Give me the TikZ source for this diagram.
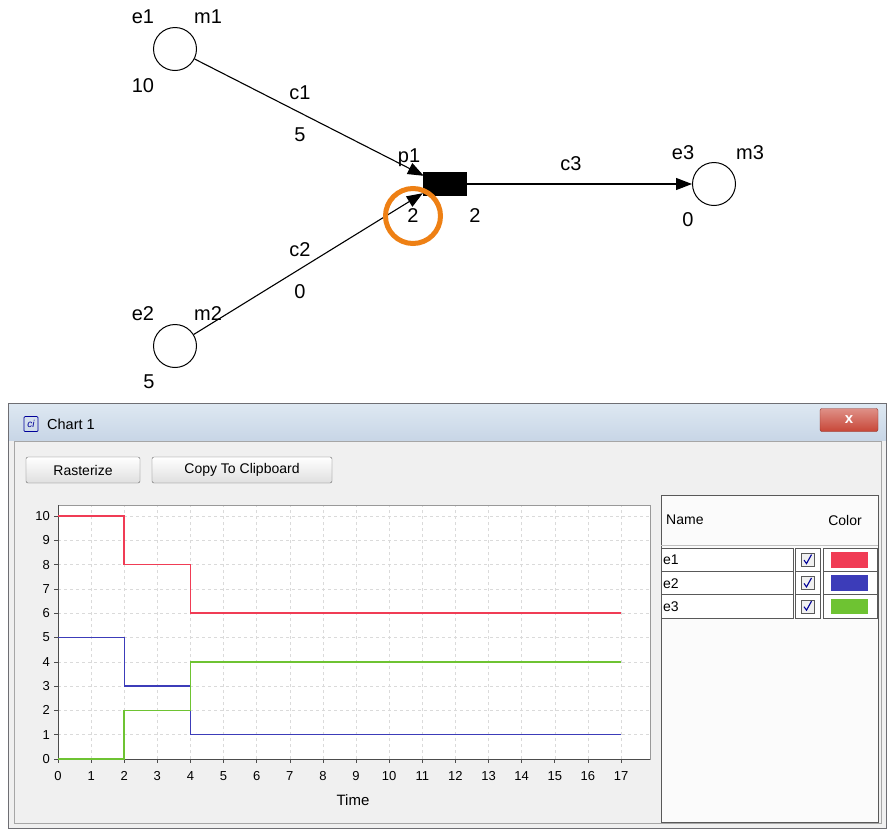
\documentclass[tikz,border=0pt]{standalone}
\usepackage{fontspec}
\setmainfont{Liberation Sans}
\usetikzlibrary{arrows.meta,calc}
\definecolor{ered}{RGB}{240,60,85}
\definecolor{eblue}{RGB}{60,60,185}
\definecolor{egreen}{RGB}{110,195,50}
\definecolor{hlorange}{RGB}{238,128,20}
\definecolor{winbg}{RGB}{240,240,240}
\definecolor{gridc}{RGB}{218,218,218}
\definecolor{framec}{RGB}{110,110,115}
\definecolor{titletop}{RGB}{222,232,242}
\definecolor{titlebot}{RGB}{200,214,230}
\definecolor{closered}{RGB}{200,70,55}
\tikzset{
  place/.style={circle, draw, line width=1pt, minimum size=43pt, inner sep=0pt},
  trans/.style={rectangle, fill=black, minimum width=44pt, minimum height=24pt, inner sep=0pt},
  lbl/.style={font=\fontsize{20}{24}\selectfont, inner sep=0pt},
  arcline/.style={line width=1.1pt, -{Triangle[length=16pt,width=12pt]}},
  ui/.style={font=\fontsize{13}{15}\selectfont, inner sep=0pt},
  btn/.style={rectangle, draw=gray!80!black, rounded corners=2pt, top color=white, bottom color=gray!25, inner sep=0pt},
}
\begin{document}
\begin{tikzpicture}[x=1pt,y=-1pt]
\useasboundingbox (0,0) rectangle (889,831);
\fill[white] (0,0) rectangle (889,831);

% ---------- net ----------
\node[place] (e1) at (175,49) {};
\node[place] (e2) at (175,346) {};
\node[place] (e3) at (714,184) {};
\node[trans] (p1) at (445,184) {};

\node[lbl] (le1) at (143,17) {e1};
\node[lbl] (lm1) at (208,17) {m1};
\node[lbl] (l10) at (143,86) {10};
\node[lbl] (le2) at (143,314) {e2};
\node[lbl] (lm2) at (208,314) {m2};
\node[lbl] (l5) at (149,382) {5};
\node[lbl] (le3) at (683,153) {e3};
\node[lbl] (lm3) at (750,153) {m3};
\node[lbl] (l0) at (688,220) {0};
\node[lbl] (lp1) at (409,158) {p1};
\node[lbl] (lt2a) at (413,216) {2};
\node[lbl] (lt2b) at (475,216) {2};
\node[lbl] (lc1) at (300,93) {c1};
\node[lbl] (lw1) at (300,135) {5};
\node[lbl] (lc2) at (300,250) {c2};
\node[lbl] (lw2) at (300,292) {0};
\node[lbl] (lc3) at (571,164) {c3};

\draw[arcline] (e1) -- ($(p1.north west)+(1,4)$);
\draw[arcline] (e2) -- ($(p1.south west)+(0,-3)$);
\draw[arcline] (p1.east) -- (e3);

\node[circle, draw=hlorange, line width=5pt, minimum size=55pt, inner sep=0pt] (hl) at (413,216) {};

% ---------- window ----------
\fill[winbg] (8,403) rectangle (886,828);
\shade[top color=titletop, bottom color=titlebot] (8,403) rectangle (886,440);
\draw[framec, line width=1pt] (8,403) rectangle (886,828);
\draw[gray!70, line width=0.8pt] (14,441) rectangle (881,823);
\node[draw=closered!70!black, rounded corners=2pt, top color=closered!60, bottom color=closered, minimum width=58pt, minimum height=23pt, inner sep=0pt, text=white, font=\bfseries\fontsize{15}{16}\selectfont] (close) at (849,420) {x};
\node[draw=blue!60!black, line width=0.7pt, rounded corners=1pt, minimum width=14pt, minimum height=15pt, inner sep=0pt, text=blue!60!black, font=\itshape\fontsize{10}{11}\selectfont] (icon) at (31,424) {ci};
\node[font=\fontsize{14.5}{16}\selectfont, inner sep=0pt, anchor=west] (title) at (47,424) {Chart 1};

\node[btn, minimum width=114pt, minimum height=26pt] (bras) at (83,470) {};
\node[font=\fontsize{14}{16}\selectfont, inner sep=0pt] (brast) at (83,470) {Rasterize};
\node[btn, minimum width=180pt, minimum height=26pt] (bcopy) at (242,470) {};
\node[font=\fontsize{14}{16}\selectfont, inner sep=0pt] (bcopyt) at (242,470) {Copy To Clipboard};

% chart panel
\fill[white] (58,505) rectangle (650,759);

\begin{scope}[shift={(58,759)}, x=33.118pt, y=24.3pt]
  \foreach \i in {1,...,17} \draw[gridc, dash pattern=on 3pt off 3pt, line width=0.5pt] (\i,0) -- (\i,10.45);
  \foreach \j in {1,...,10} \draw[gridc, dash pattern=on 3pt off 3pt, line width=0.5pt] (0,\j) -- (17.88,\j);
  \draw[gray!80, line width=0.6pt] (0,0) rectangle (17.88,10.45);
  \draw[gray!60!black, line width=0.8pt] (0,10.45) -- (0,0) -- (17.88,0);
  \foreach \i in {0,...,17} {
    \draw[gray!60!black, line width=0.6pt] (\i,0) -- ++(0,-4pt);
    \node[ui, anchor=north] (xt\i) at ([yshift=-12pt]\i,0) {\i};
  }
  \foreach \j in {0,...,10} {
    \draw[gray!60!black, line width=0.6pt] (0,\j) -- ++(-4pt,0);
    \node[ui, anchor=east] (yt\j) at ([xshift=-8pt]0,\j) {\j};
  }
  \draw[ered, line width=1.5pt] (0,10) -| (2,8) -| (4,6) -- (17,6);
  \draw[eblue, line width=1.3pt] (0,5) -| (2,3) -| (4,1) -- (17,1);
  \draw[egreen, line width=1.5pt] (0,0) -| (2,2) -| (4,4) -- (17,4);
\end{scope}
\node[font=\fontsize{15}{16}\selectfont, inner sep=0pt] (time) at (353,800) {Time};

% legend
\fill[white!97!gray] (661,495) rectangle (878,822);
\draw[gray!70!black, line width=0.8pt] (661,495) rectangle (878,822);
\node[font=\fontsize{14}{16}\selectfont, inner sep=0pt, anchor=west] (hname) at (666,520) {Name};
\node[font=\fontsize{14}{16}\selectfont, inner sep=0pt] (hcolor) at (845,520) {Color};
\draw[gray!50] (661,545) -- (878,545);
\foreach \r/\n/\c [count=\k] in {0/e1/ered, 1/e2/eblue, 2/e3/egreen} {
  \pgfmathsetmacro{\yt}{548+23.3*\r}
  \fill[white] (661,\yt) rectangle (878,\yt+23.3);
  \draw[gray!70!black, line width=0.6pt] (661,\yt) rectangle (793,\yt+23.3);
  \draw[gray!70!black, line width=0.6pt] (795,\yt) rectangle (820,\yt+23.3);
  \draw[gray!70!black, line width=0.6pt] (823,\yt) rectangle (877,\yt+23.3);
  \node[font=\fontsize{14}{16}\selectfont, inner sep=0pt, anchor=west] (ln\k) at (663,\yt+12) {\n};
  \node[draw=gray!70!black, fill=gray!12, minimum size=13pt, inner sep=0pt] (cb\k) at (807.5,\yt+11.6) {};
  \draw[blue!60!black, line width=1.1pt] ($(cb\k.center)+(-3.5,0.5)$) -- ($(cb\k.center)+(-1,4)$) -- ($(cb\k.center)+(4,-5)$);
  \fill[\c] (831,\yt+4) rectangle (868,\yt+19.5);
}
\end{tikzpicture}
\end{document}
